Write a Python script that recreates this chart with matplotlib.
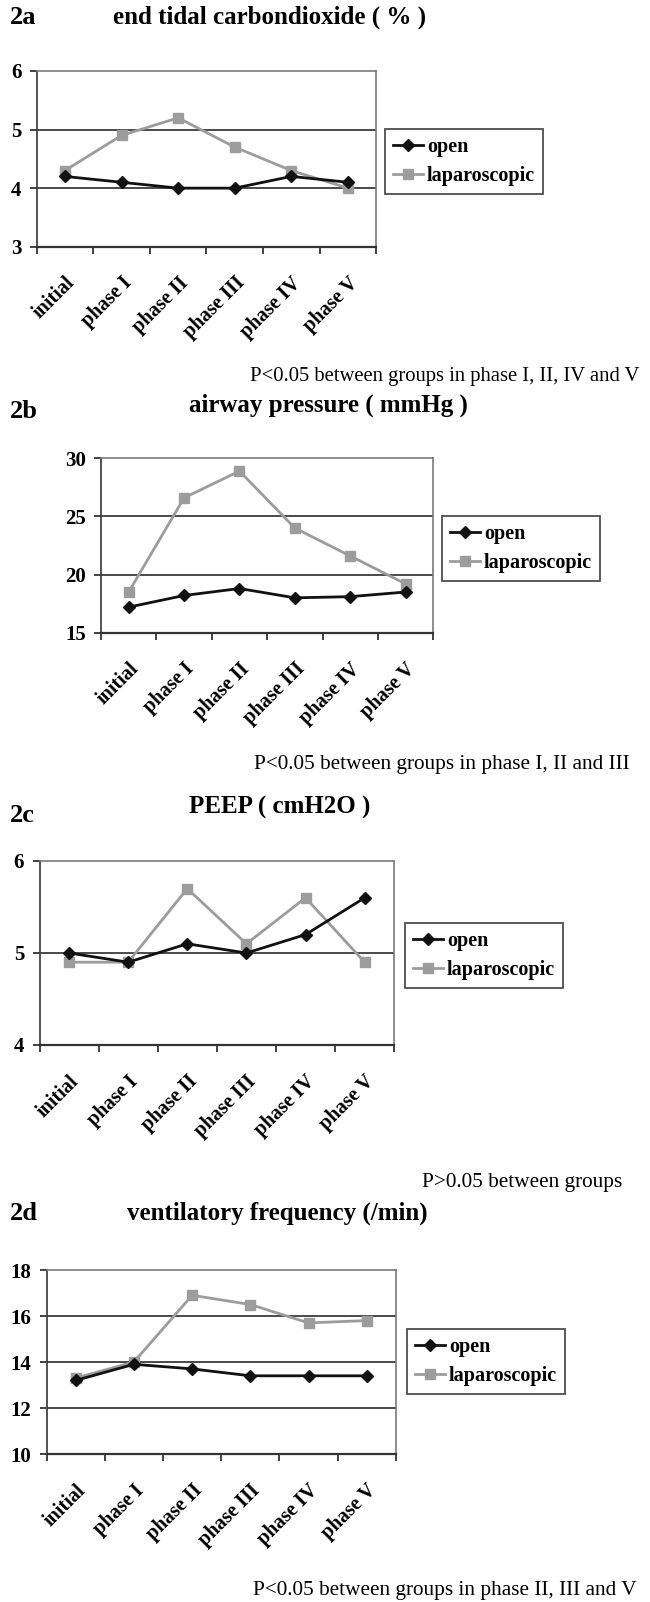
import matplotlib
matplotlib.use("Agg")
import matplotlib.pyplot as plt
from matplotlib.lines import Line2D
from matplotlib.transforms import ScaledTranslation

# ---------------- data ----------------
phases = ["initial", "phase I", "phase II", "phase III", "phase IV", "phase V"]

etco2_open = [4.2, 4.1, 4.0, 4.0, 4.2, 4.1]
etco2_lap = [4.3, 4.9, 5.2, 4.7, 4.3, 4.0]

paw_open = [17.2, 18.2, 18.8, 18.0, 18.1, 18.5]
paw_lap = [18.5, 26.6, 28.9, 24.0, 21.6, 19.2]

peep_open = [5.0, 4.9, 5.1, 5.0, 5.2, 5.6]
peep_lap = [4.9, 4.9, 5.7, 5.1, 5.6, 4.9]

vf_open = [13.2, 13.9, 13.7, 13.4, 13.4, 13.4]
vf_lap = [13.3, 14.0, 16.9, 16.5, 15.7, 15.8]

panel_ids = ["2a", "2b", "2c", "2d"]
panel_titles = ["end tidal carbondioxide ( % )", "airway pressure ( mmHg )",
                "PEEP ( cmH2O )", "ventilatory frequency (/min)"]
panel_notes = ["P<0.05 between groups in phase I, II, IV and V",
               "P<0.05 between groups in phase I, II and III",
               "P>0.05 between groups",
               "P<0.05 between groups in phase II, III and V"]
series_names = ["open", "laparoscopic"]

y_limits = [(3, 6), (15, 30), (4, 6), (10, 18)]
y_steps = [1, 5, 1, 2]

# ---------------- layout (pixels) ----------------
W, H = 650, 1602
DPI = 100
fig = plt.figure(figsize=(W / DPI, H / DPI), dpi=DPI)
fig.patch.set_facecolor("white")

SERIF = ["Liberation Serif", "DejaVu Serif"]

# axes boxes: left, right, top, bottom in pixels
boxes = [(36.6, 376.3, 71, 246.7),
         (101, 433.3, 458.3, 632.7),
         (39.5, 394.2, 861, 1045),
         (46.6, 395.8, 1270, 1454)]
legend_pos = [(384.6, 129.3), (441.6, 516), (404.6, 922.7), (406.7, 1329)]
id_pos = [(10, 18), (10, 411), (10, 816), (10, 1214)]
title_pos = [(113, 17), (189, 405), (189, 807), (127, 1213)]
note_pos = [(250, 377), (254, 765), (422, 1183), (253, 1590)]
note_sizes = [14.9, 15.3, 15.3, 15.3]

data_open = [etco2_open, paw_open, peep_open, vf_open]
data_lap = [etco2_lap, paw_lap, peep_lap, vf_lap]

OPEN_C = "#111111"
LAP_C = "#9c9c9c"
GRID_C = "#4a4a4a"
FRAME_C = "#7a7a7a"

def fx(px):
    return px / W

def fy(py):
    return 1 - py / H

x = list(range(len(phases)))
shift = ScaledTranslation(-15 / DPI, 0, fig.dpi_scale_trans)

for i in range(4):
    l, r, t, b = boxes[i]
    ax = fig.add_axes([fx(l), fy(b), fx(r) - fx(l), fy(t) - fy(b)])
    lo, hi = y_limits[i]
    ax.set_ylim(lo, hi)
    ax.set_xlim(-0.5, len(phases) - 0.5)

    yt = []
    v = lo
    while v <= hi + 1e-9:
        yt.append(v)
        v += y_steps[i]
    ax.set_yticks(yt)
    ax.set_yticklabels([str(int(t_)) for t_ in yt], fontfamily=SERIF,
                       fontweight="bold", fontsize=15)
    for yv in yt[1:-1]:
        ax.axhline(yv, color=GRID_C, lw=1.4, zorder=1)

    # x: boundaries as major ticks (no labels), centers as minor ticks with labels
    ax.set_xticks([k - 0.5 for k in range(len(phases) + 1)])
    ax.set_xticklabels([])
    ax.set_xticks(x, minor=True)
    ax.set_xticklabels(phases, minor=True, rotation=45, ha="right", va="top",
                       rotation_mode="anchor", fontfamily=SERIF,
                       fontweight="bold", fontsize=14.5)
    for lbl in ax.get_xticklabels(minor=True):
        lbl.set_transform(lbl.get_transform() + shift)
    ax.tick_params(axis="x", which="major", direction="out", length=5,
                   width=1.3, color="#333333")
    ax.tick_params(axis="x", which="minor", length=0, pad=19)
    ax.tick_params(axis="y", direction="out", length=5, width=1.3,
                   color="#333333", pad=6)

    for side in ["top", "right"]:
        ax.spines[side].set_color(FRAME_C)
        ax.spines[side].set_linewidth(1.2)
    ax.spines["left"].set_color("#444444")
    ax.spines["left"].set_linewidth(1.3)
    ax.spines["bottom"].set_color("#333333")
    ax.spines["bottom"].set_linewidth(1.6)

    ax.plot(x, data_lap[i], color=LAP_C, lw=2.0, marker="s", ms=7.5,
            mfc=LAP_C, mec=LAP_C, zorder=3, label=series_names[1])
    ax.plot(x, data_open[i], color=OPEN_C, lw=2.0, marker="D", ms=6,
            mfc=OPEN_C, mec=OPEN_C, zorder=4, label=series_names[0])

    handles = [Line2D([], [], color=OPEN_C, lw=2.0, marker="D", ms=6),
               Line2D([], [], color=LAP_C, lw=2.0, marker="s", ms=7.5)]
    lx, ly = legend_pos[i]
    leg = fig.legend(handles, series_names, loc="upper left",
                     bbox_to_anchor=(fx(lx), fy(ly)),
                     prop={"family": SERIF, "weight": "bold", "size": 14.5},
                     frameon=True, fancybox=False, edgecolor="#222222",
                     handlelength=1.5, handletextpad=0.2, borderpad=0.4,
                     labelspacing=0.45, borderaxespad=0)
    leg.get_frame().set_linewidth(1.3)

    ix, iy = id_pos[i]
    fig.text(fx(ix), fy(iy), panel_ids[i], fontfamily=SERIF, fontweight="bold",
             fontsize=19, ha="left", va="center")
    tx, ty = title_pos[i]
    fig.text(fx(tx), fy(ty), panel_titles[i], fontfamily=SERIF,
             fontweight="bold", fontsize=18, ha="left", va="center")
    nx, ny = note_pos[i]
    fig.text(fx(nx), fy(ny), panel_notes[i], fontfamily=SERIF,
             fontsize=note_sizes[i], ha="left", va="center")

fig.savefig("out.png", dpi=DPI, facecolor="white")
